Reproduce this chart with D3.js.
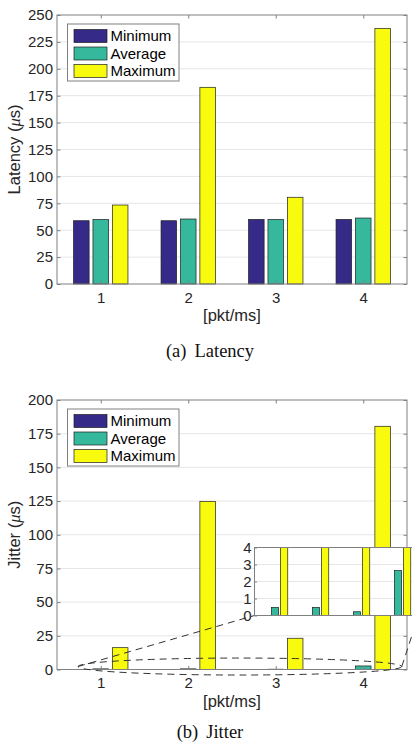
<!DOCTYPE html>
<html>
<head>
<meta charset="utf-8">
<script src="https://cdn.jsdelivr.net/npm/d3@7"></script>
<style>
  body { margin: 0; background: #fff; }
  svg { display: block; }
</style>
</head>
<body>
<svg id="fig" width="412" height="746"></svg>
<script>
// données
const groups = [1, 2, 3, 4];
const seriesNames = ["Minimum", "Average", "Maximum"];
const seriesColors = ["#352a87", "#36b89d", "#f9fb0e"];

const latencyMin = [58.8, 58.8, 60, 60];
const latencyAvg = [60, 60.4, 60, 61.3];
const latencyMax = [73.4, 182.8, 80.6, 237.6];

const jitterMin = [0, 0, 0, 0];
const jitterAvg = [0.48, 0.48, 0.22, 2.64];
const jitterMax = [16.2, 124.8, 23.2, 180.5];

const latencyTicks = [0, 25, 50, 75, 100, 125, 150, 175, 200, 225, 250];
const jitterTicks = [0, 25, 50, 75, 100, 125, 150, 175, 200];
const insetTicks = [0, 1, 2, 3, 4];

// zone agrandie : ellipse en unités de données
const zoomX = [0.74, 4.44];
const zoomY = [-4.1, 8.5];

const svg = d3.select("#fig");
const FONT = "'Liberation Sans', Arial, sans-serif";
const TXT = "#262626";
const AXC = "#808080";
const offsets = [-0.222, 0, 0.222];
const barW = 0.178;
const fmt = d3.format("d");

function drawBars(g, x, y, series) {
  series.forEach((vals, si) => {
    g.selectAll(null)
      .data(vals)
      .enter().append("rect")
      .attr("x", (d, i) => x(groups[i] + offsets[si] - barW / 2))
      .attr("width", x(barW) - x(0))
      .attr("y", d => y(d))
      .attr("height", d => y(0) - y(d))
      .attr("fill", seriesColors[si])
      .attr("stroke", "#1e1e1e")
      .attr("stroke-width", 0.7);
  });
}

function styleAxis(sel) {
  sel.select(".domain").remove();
  sel.selectAll(".tick line").attr("stroke", AXC);
  sel.selectAll(".tick text")
    .attr("fill", TXT)
    .style("font-family", FONT)
    .style("font-size", "15px");
}

function panel(cfg) {
  const x = d3.scaleLinear().domain([0.5, 4.5]).range([57, 407]);
  const y = d3.scaleLinear().domain([0, cfg.yMax]).range([cfg.y0, cfg.yTop]);
  const g = svg.append("g");

  // grille horizontale
  g.selectAll("line.grid")
    .data(cfg.ticks.slice(1, -1))
    .enter().append("line")
    .attr("x1", x(0.5)).attr("x2", x(4.5))
    .attr("y1", d => y(d)).attr("y2", d => y(d))
    .attr("stroke", "#e6e6e6");

  drawBars(g, x, y, cfg.series);

  // axes (ticks vers l'intérieur, comme MATLAB)
  g.append("g").attr("transform", `translate(${x(0.5)},0)`)
    .call(d3.axisLeft(y).tickValues(cfg.ticks).tickFormat(fmt).tickSizeInner(-3.5).tickSizeOuter(0).tickPadding(4))
    .call(styleAxis);
  g.append("g").attr("transform", `translate(${x(4.5)},0)`)
    .call(d3.axisRight(y).tickValues(cfg.ticks).tickSizeInner(-3.5).tickSizeOuter(0).tickFormat(""))
    .call(styleAxis);
  g.append("g").attr("transform", `translate(0,${y(0)})`)
    .call(d3.axisBottom(x).tickValues(groups).tickFormat(fmt).tickSizeInner(-3.5).tickSizeOuter(0).tickPadding(8))
    .call(styleAxis);
  g.append("g").attr("transform", `translate(0,${y(cfg.yMax)})`)
    .call(d3.axisTop(x).tickValues(groups).tickSizeInner(-3.5).tickSizeOuter(0).tickFormat(""))
    .call(styleAxis);

  g.append("rect")
    .attr("x", x(0.5)).attr("y", y(cfg.yMax))
    .attr("width", x(4.5) - x(0.5)).attr("height", y(0) - y(cfg.yMax))
    .attr("fill", "none").attr("stroke", AXC);

  // titres d'axes
  g.append("text")
    .attr("x", (x(0.5) + x(4.5)) / 2).attr("y", y(0) + 37)
    .attr("text-anchor", "middle")
    .attr("fill", TXT).style("font-family", FONT).style("font-size", "16.5px")
    .text("[pkt/ms]");
  const yl = g.append("text")
    .attr("transform", `translate(20,${(y(0) + y(cfg.yMax)) / 2}) rotate(-90)`)
    .attr("text-anchor", "middle")
    .attr("fill", TXT).style("font-family", FONT).style("font-size", "16.5px");
  yl.append("tspan").text(cfg.yLabel + " (");
  yl.append("tspan").style("font-style", "italic").style("font-family", "'Liberation Serif', serif").text("μ");
  yl.append("tspan").text("s)");

  // légende
  const lg = g.append("g").attr("transform", `translate(67.5,${y(cfg.yMax) + 9})`);
  lg.append("rect").attr("width", 111.5).attr("height", 57)
    .attr("fill", "#fff").attr("stroke", AXC);
  seriesNames.forEach((name, i) => {
    lg.append("rect")
      .attr("x", 6.5).attr("y", 5.5 + i * 17.5)
      .attr("width", 33).attr("height", 13)
      .attr("fill", seriesColors[i]).attr("stroke", "#1e1e1e").attr("stroke-width", 0.7);
    lg.append("text")
      .attr("x", 43).attr("y", 12 + i * 17.5).attr("dy", "0.36em")
      .attr("fill", "#000").style("font-family", FONT).style("font-size", "15px")
      .text(name);
  });

  // légende de sous-figure
  const cap = svg.append("text")
    .attr("x", 210).attr("y", cfg.capY)
    .attr("text-anchor", "middle")
    .attr("fill", "#111").style("font-family", "'Liberation Serif', 'Times New Roman', serif")
    .style("font-size", "18.5px");
  cap.append("tspan").text(cfg.capTag);
  cap.append("tspan").attr("dx", 8).text(cfg.capText);

  return { g, x, y };
}

panel({
  yMax: 250, y0: 284, yTop: 15, ticks: latencyTicks,
  series: [latencyMin, latencyAvg, latencyMax],
  yLabel: "Latency", capY: 357, capTag: "(a)", capText: "Latency"
});

const jp = panel({
  yMax: 200, y0: 669.5, yTop: 400, ticks: jitterTicks,
  series: [jitterMin, jitterAvg, jitterMax],
  yLabel: "Jitter", capY: 738, capTag: "(b)", capText: "Jitter"
});

// encart agrandi
const xi = d3.scaleLinear().domain([0.5, 4.5]).range([254.5, 418.5]);
const yi = d3.scaleLinear().domain([0, 4]).range([615.5, 547.5]);

// ellipse pointillée + liens vers l'encart
const ex0 = jp.x(zoomX[0]), ex1 = jp.x(zoomX[1]);
const ey0 = jp.y(zoomY[0]), ey1 = jp.y(zoomY[1]);
const ecx = (ex0 + ex1) / 2, ecy = (ey0 + ey1) / 2;
const dash = { stroke: "#333", "stroke-width": 1, "stroke-dasharray": "7,5", fill: "none" };
const ann = svg.append("g");
const ell = ann.append("ellipse")
  .attr("cx", ecx).attr("cy", ecy)
  .attr("rx", (ex1 - ex0) / 2).attr("ry", (ey0 - ey1) / 2);
const l1 = ann.append("line")
  .attr("x1", ex0).attr("y1", ecy).attr("x2", xi(0.5)).attr("y2", yi(0));
const l2 = ann.append("line")
  .attr("x1", ex1).attr("y1", ecy).attr("x2", xi(4.5)).attr("y2", yi(0));
[ell, l1, l2].forEach(s => Object.entries(dash).forEach(([k, v]) => s.attr(k, v)));

const ig = svg.append("g");
svg.append("defs").append("clipPath").attr("id", "insetClip")
  .append("rect")
  .attr("x", xi(0.5)).attr("y", yi(4))
  .attr("width", xi(4.5) - xi(0.5)).attr("height", yi(0) - yi(4));

ig.append("rect")
  .attr("x", xi(0.5)).attr("y", yi(4))
  .attr("width", xi(4.5) - xi(0.5)).attr("height", yi(0) - yi(4))
  .attr("fill", "#fff");
ig.selectAll("line.grid")
  .data(insetTicks.slice(1, -1))
  .enter().append("line")
  .attr("x1", xi(0.5)).attr("x2", xi(4.5))
  .attr("y1", d => yi(d)).attr("y2", d => yi(d))
  .attr("stroke", "#e6e6e6");
const ib = ig.append("g").attr("clip-path", "url(#insetClip)");
drawBars(ib, xi, yi, [jitterMin, jitterAvg, jitterMax]);

ig.append("g").attr("transform", `translate(${xi(0.5)},0)`)
  .call(d3.axisLeft(yi).tickValues(insetTicks).tickFormat(fmt).tickSizeInner(-2.5).tickSizeOuter(0).tickPadding(3))
  .call(styleAxis);
ig.append("rect")
  .attr("x", xi(0.5)).attr("y", yi(4))
  .attr("width", xi(4.5) - xi(0.5)).attr("height", yi(0) - yi(4))
  .attr("fill", "none").attr("stroke", AXC);
</script>
</body>
</html>
